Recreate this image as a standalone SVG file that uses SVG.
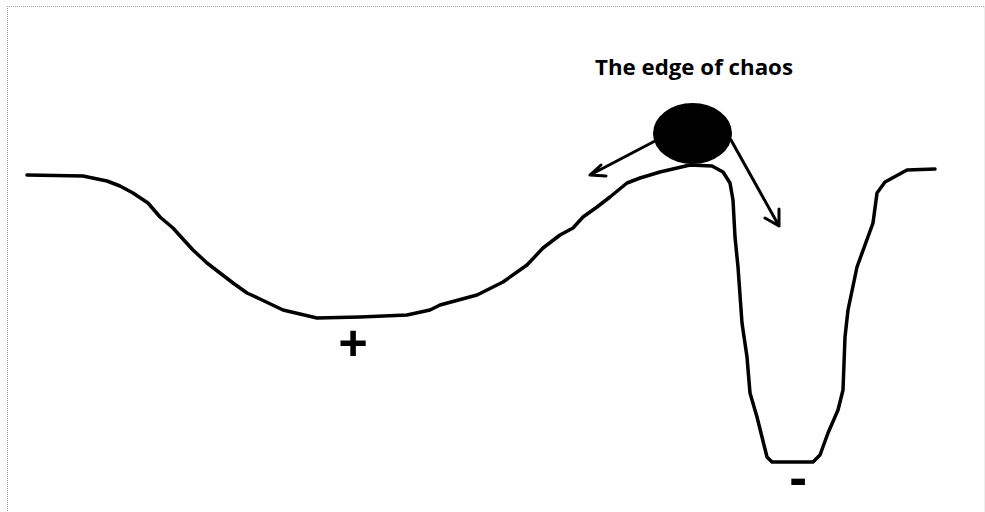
<svg xmlns="http://www.w3.org/2000/svg" width="985" height="512" viewBox="0 0 985 512">
<style>
.frame{stroke:#9a9a9a;stroke-width:1;stroke-dasharray:1 1;fill:none}
.line{fill:none;stroke:#000;stroke-width:3.5;stroke-linejoin:round;stroke-linecap:round}
.arrow{fill:none;stroke:#000;stroke-width:3;stroke-linecap:round;stroke-linejoin:round}
.lbl{font-family:"Open Sans","Liberation Sans",sans-serif;font-weight:bold;fill:#000}
</style>
<rect width="985" height="512" fill="#fff"/>
<g id="frame">
<line class="frame" x1="7" y1="6.5" x2="984" y2="6.5"/>
<line class="frame" x1="7.5" y1="6" x2="7.5" y2="512"/>
<line x1="984.5" y1="6" x2="984.5" y2="512" stroke="#eeeeee" stroke-width="1"/>
</g>
<g id="landscape">
<path class="line" d="M27,175 L83,176 L107,181 L120,186 L133,193 L148,203 L160,217 L173,228 L182,238 L193,250 L207,263 L220,273 L233,283 L247,293 L260,299 L283,310 L317,318 L360,317 L407,315 L430,310 L440,305 L477,295 L503,282 L527,265 L543,248 L560,235 L573,228 L583,217 L597,207 L610,197 L627,183 L640,178 L660,172 L690,165 L712,166 L723,172 L730,183 L733,200 L735,237 L738,267 L742,323 L747,357 L750,393 L757,417 L767,457 L772,462 L813,462 L820,455 L828,433 L838,410 L843,390 L845,337 L848,310 L857,267 L873,223 L877,193 L885,182 L907,170 L935,169"/>
</g>
<g id="ball">
<ellipse cx="692.5" cy="133.5" rx="39.5" ry="30.5" fill="#000"/>
</g>
<g id="connectors">
<path class="arrow" d="M655,141 L590,175 M590,175 L606,176 M590,175 L601,165"/>
<path class="arrow" d="M731,140 L779,226 M779,226 L765,218 M779,226 L779,209"/>
</g>
<g id="labels">
<text class="lbl" x="595" y="75" font-size="22" textLength="198" lengthAdjust="spacingAndGlyphs">The edge of chaos</text>
<text class="lbl" x="353" y="362" font-size="52" text-anchor="middle">+</text>
<text class="lbl" x="798" y="496" font-size="52" text-anchor="middle">-</text>
</g>
</svg>
